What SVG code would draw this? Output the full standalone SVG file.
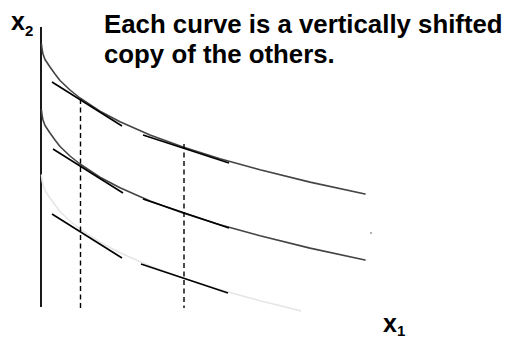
<svg xmlns="http://www.w3.org/2000/svg" width="511" height="338" viewBox="0 0 511 338">
<style>
.lbl{font-family:"Liberation Sans",Arial,sans-serif;font-weight:bold;fill:#000}
.curve{fill:none;stroke:#444;stroke-width:1.6;stroke-linejoin:round;stroke-linecap:round}
.tan{stroke:#000;stroke-width:1.6;fill:none}
.dash{stroke:#000;stroke-width:1.4;stroke-dasharray:5,3.5;fill:none}
</style>
<defs>
<path id="ic" d="M41.5,44 L42,49 L43,54 L45,59.5 L48,64 L50,67 L55,74 L60,80.5 L70,90 L80,98 L100,111.2 L120,121.8 L150,135 L183,147 L220,158.7 L260,169.8 L310,182.1 L365,194"/>
</defs>
<g id="axis"><line x1="41" y1="27" x2="41" y2="307" stroke="#000" stroke-width="1.8"/></g>
<g id="curve-top"><use href="#ic" class="curve"/></g>
<g id="curve-middle"><use href="#ic" class="curve" transform="translate(0,66)"/></g>
<g id="curve-bottom"><clipPath id="cb"><rect x="0" y="0" width="301" height="338"/></clipPath><use href="#ic" class="curve" style="stroke:#e6e6e6" clip-path="url(#cb)" transform="translate(0,131)"/></g>
<g id="connectors">
<line class="tan" x1="52" y1="82" x2="122" y2="126"/>
<line class="tan" x1="143" y1="135" x2="229" y2="163"/>
<line class="tan" x1="53" y1="149" x2="123" y2="193"/>
<line class="tan" x1="143" y1="199" x2="229" y2="228"/>
<line class="tan" x1="52" y1="214" x2="122" y2="258"/>
<line class="tan" x1="141" y1="264" x2="228" y2="293"/>
<line class="dash" x1="80.5" y1="99" x2="80.5" y2="308"/>
<line class="dash" x1="184" y1="144" x2="184" y2="308"/>
</g>
<rect x="370" y="232.5" width="2" height="1" fill="#666"/>
<g id="title"><text class="lbl" x="104" y="33" font-size="25.8">Each curve is a vertically shifted</text><text class="lbl" x="104" y="63" font-size="25.8">copy of the others.</text></g>
<g id="label-x2"><text class="lbl" x="11" y="30" font-size="25">x<tspan font-size="15" dy="6">2</tspan></text></g>
<g id="label-x1"><text class="lbl" x="383" y="332" font-size="25">x<tspan font-size="15" dy="3.5">1</tspan></text></g>
</svg>
